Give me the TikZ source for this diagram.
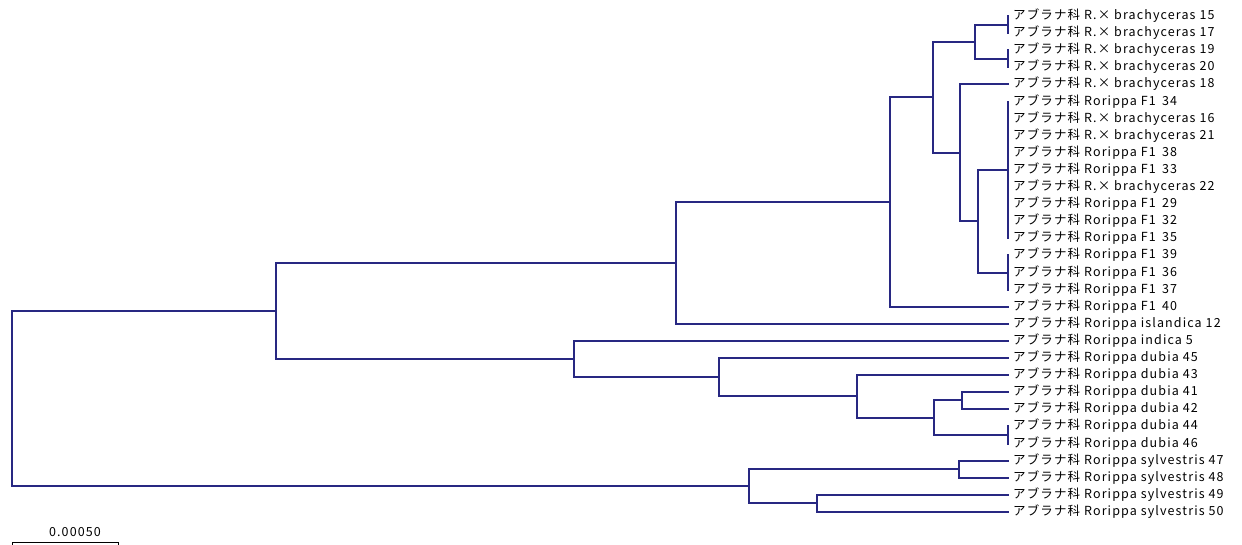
\documentclass[tikz,border=0pt]{standalone}
\usepackage{fontspec}
\setmainfont{Noto Sans CJK JP}
\newfontfamily\lblfont[LetterSpace=9]{Noto Sans CJK JP}
\definecolor{treeblue}{RGB}{40,40,130}
\begin{document}
\begin{tikzpicture}[x=1pt,y=-1pt,
  br/.style={draw=treeblue, line width=1.5pt, line cap=rect},
  leaf/.style={anchor=west, inner xsep=5pt, inner ysep=0pt, font=\lblfont\fontsize{12.5}{13}\selectfont, text=black},
  scalelbl/.style={inner sep=0pt, font=\lblfont\fontsize{12.5}{13}\selectfont, text=black}]
\useasboundingbox (0,0) rectangle (1242,544);
\fill[white] (0,0) rectangle (1242,544);
% leaves
\node[leaf] (L1)  at (1008,16)  {アブラナ科 R.× brachyceras 15};
\node[leaf] (L2)  at (1008,33)  {アブラナ科 R.× brachyceras 17};
\node[leaf] (L3)  at (1008,50)  {アブラナ科 R.× brachyceras 19};
\node[leaf] (L4)  at (1008,67)  {アブラナ科 R.× brachyceras 20};
\node[leaf] (L5)  at (1008,84)  {アブラナ科 R.× brachyceras 18};
\node[leaf] (L6)  at (1008,102) {アブラナ科 Rorippa F1\enspace 34};
\node[leaf] (L7)  at (1008,119) {アブラナ科 R.× brachyceras 16};
\node[leaf] (L8)  at (1008,136) {アブラナ科 R.× brachyceras 21};
\node[leaf] (L9)  at (1008,153) {アブラナ科 Rorippa F1\enspace 38};
\node[leaf] (L10) at (1008,170) {アブラナ科 Rorippa F1\enspace 33};
\node[leaf] (L11) at (1008,187) {アブラナ科 R.× brachyceras 22};
\node[leaf] (L12) at (1008,204) {アブラナ科 Rorippa F1\enspace 29};
\node[leaf] (L13) at (1008,221) {アブラナ科 Rorippa F1\enspace 32};
\node[leaf] (L14) at (1008,238) {アブラナ科 Rorippa F1\enspace 35};
\node[leaf] (L15) at (1008,255) {アブラナ科 Rorippa F1\enspace 39};
\node[leaf] (L16) at (1008,273) {アブラナ科 Rorippa F1\enspace 36};
\node[leaf] (L17) at (1008,290) {アブラナ科 Rorippa F1\enspace 37};
\node[leaf] (L18) at (1008,307) {アブラナ科 Rorippa F1\enspace 40};
\node[leaf] (L19) at (1008,324) {アブラナ科 Rorippa islandica 12};
\node[leaf] (L20) at (1008,341) {アブラナ科 Rorippa indica 5};
\node[leaf] (L21) at (1008,358) {アブラナ科 Rorippa dubia 45};
\node[leaf] (L22) at (1008,375) {アブラナ科 Rorippa dubia 43};
\node[leaf] (L23) at (1008,392) {アブラナ科 Rorippa dubia 41};
\node[leaf] (L24) at (1008,409) {アブラナ科 Rorippa dubia 42};
\node[leaf] (L25) at (1008,426) {アブラナ科 Rorippa dubia 44};
\node[leaf] (L26) at (1008,444) {アブラナ科 Rorippa dubia 46};
\node[leaf] (L27) at (1008,461) {アブラナ科 Rorippa sylvestris 47};
\node[leaf] (L28) at (1008,478) {アブラナ科 Rorippa sylvestris 48};
\node[leaf] (L29) at (1008,495) {アブラナ科 Rorippa sylvestris 49};
\node[leaf] (L30) at (1008,512) {アブラナ科 Rorippa sylvestris 50};
% polytomy ticks
\coordinate (T12)  at (1008,25);
\coordinate (T34)  at (1008,59);
\coordinate (Tbig) at (1008,170);
\coordinate (Tsm)  at (1008,273);
\coordinate (T2526) at (1008,435);
\draw[br] (L1.west) -- (L2.west);
\draw[br] (L3.west) -- (L4.west);
\draw[br] (L6.west) -- (L14.west);
\draw[br] (L15.west) -- (L17.west);
\draw[br] (L25.west) -- (L26.west);
% internal nodes
\coordinate (N975) at (975,42);
\coordinate (N978) at (978,221);
\coordinate (N960) at (960,153);
\coordinate (N933) at (933,97);
\coordinate (N890) at (890,202);
\coordinate (N676) at (676,263);
\coordinate (N962) at (962,400);
\coordinate (N934) at (934,418);
\coordinate (N857) at (857,396);
\coordinate (N719) at (719,377);
\coordinate (N574) at (574,359);
\coordinate (N276) at (276,311);
\coordinate (N959) at (959,469);
\coordinate (N817) at (817,503);
\coordinate (N749) at (749,486);
\coordinate (R)    at (12,399);
% branches
\draw[br] (T12) -| (N975) |- (T34);
\draw[br] (Tbig) -| (N978) |- (Tsm);
\draw[br] (L5.west) -| (N960) |- (N978);
\draw[br] (N975) -| (N933) |- (N960);
\draw[br] (N933) -| (N890) |- (L18.west);
\draw[br] (N890) -| (N676) |- (L19.west);
\draw[br] (L23.west) -| (N962) |- (L24.west);
\draw[br] (N962) -| (N934) |- (T2526);
\draw[br] (L22.west) -| (N857) |- (N934);
\draw[br] (L21.west) -| (N719) |- (N857);
\draw[br] (L20.west) -| (N574) |- (N719);
\draw[br] (N676) -| (N276) |- (N574);
\draw[br] (L27.west) -| (N959) |- (L28.west);
\draw[br] (L29.west) -| (N817) |- (L30.west);
\draw[br] (N959) -| (N749) |- (N817);
\draw[br] (N276) -| (R) |- (N749);
% scale bar
\coordinate (S1) at (12,542);
\coordinate (S2) at (118,542);
\draw[draw=black, line width=1pt] ([yshift=-3pt]S1) -- (S1) -- (S2) -- ([yshift=-3pt]S2);
\node[scalelbl] (SL) at (75,532) {0.00050};
\end{tikzpicture}
\end{document}
